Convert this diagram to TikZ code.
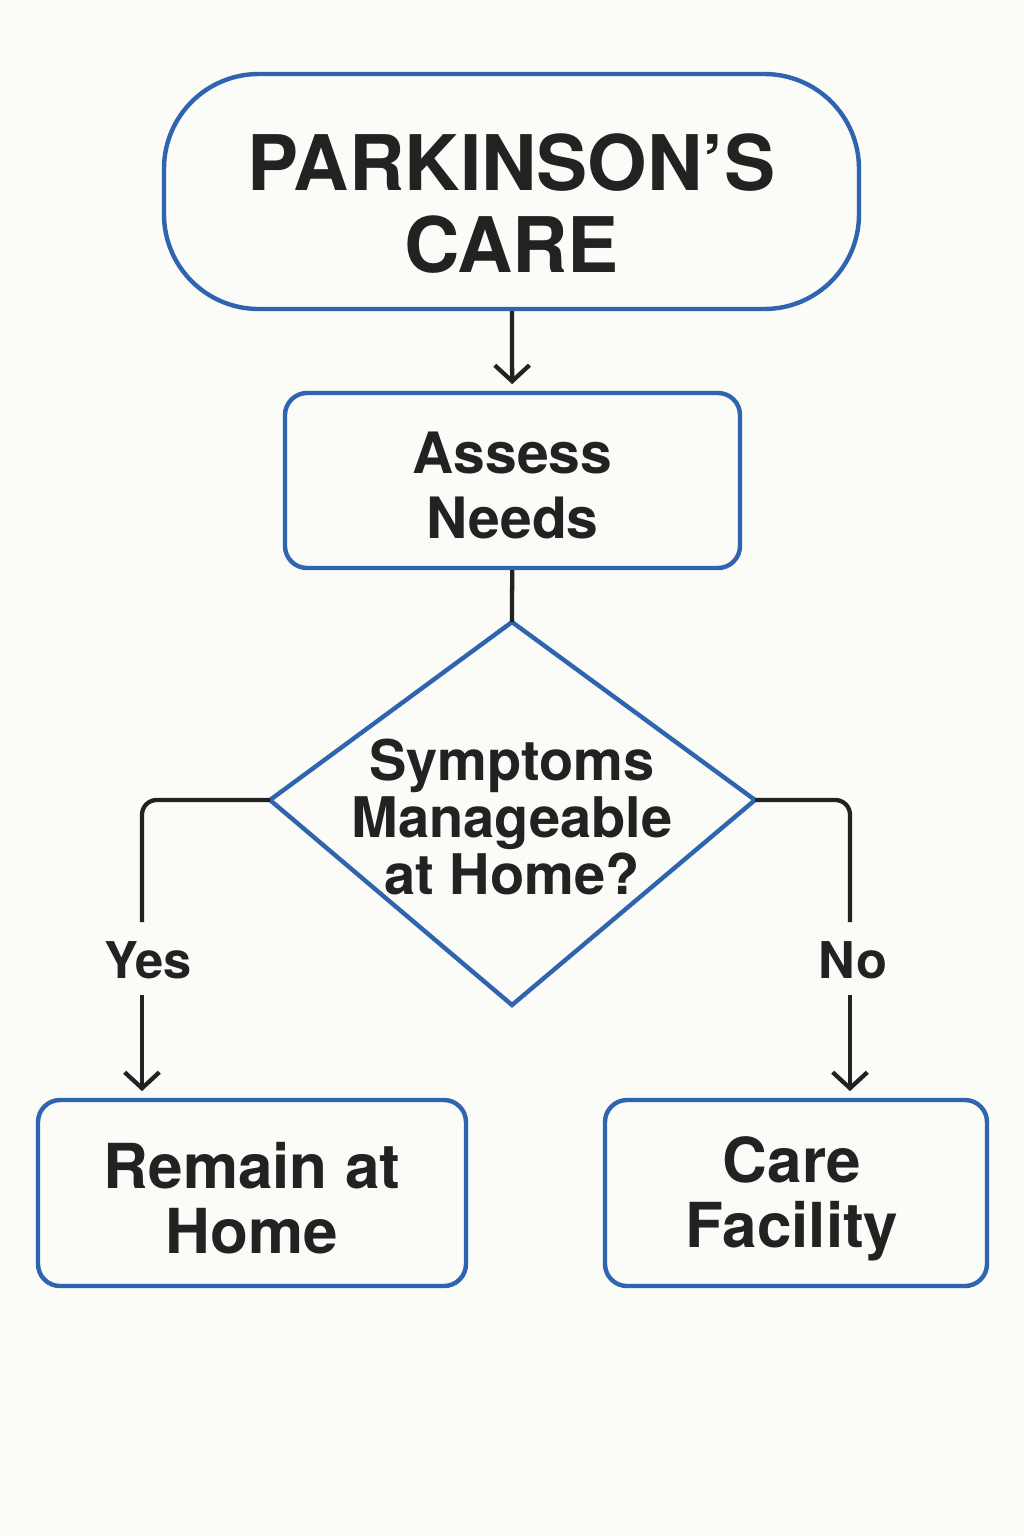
\documentclass[tikz,border=0pt]{standalone}
\usepackage{fontspec}
\setmainfont{TeX Gyre Heros}
\usetikzlibrary{arrows.meta}
\definecolor{bg}{HTML}{FBFBF7}
\definecolor{bblue}{HTML}{2F64AE}
\definecolor{ink}{HTML}{222222}
\tikzset{
  box/.style={draw=bblue, line width=3.3pt, fill=bg, inner sep=0pt},
  btext/.style={inner sep=0pt, align=center, text=ink},
  conn/.style={draw=ink, line width=3.2pt},
  arr/.style={conn, -{Straight Barb[length=12pt,width=26pt,line width=3.2pt]}, shorten >=5pt},
  lbl/.style={text=ink, inner sep=0pt, font=\bfseries\fontsize{38pt}{40pt}\selectfont}
}
\begin{document}
\begin{tikzpicture}[x=0.75pt,y=-0.75pt]
\path[use as bounding box, fill=bg] (0,0) rectangle (1024,1536);

\node[box, minimum width=521.25pt, minimum height=176.25pt, rounded corners=71pt] (title) at (511.5,191.5) {};
\node[btext, font=\bfseries\fontsize{57.5pt}{61pt}\selectfont] (titlet) at ([yshift=-9pt]title.center) {PARKINSON’S\\CARE};

\node[box, minimum width=341.25pt, minimum height=131.25pt, rounded corners=16.5pt] (assess) at (512.5,480.5) {};
\node[btext, font=\bfseries\fontsize{42.75pt}{48.75pt}\selectfont] (assesst) at ([yshift=-4pt]assess.center) {Assess\\Needs};

\coordinate (dT) at (512,622);
\coordinate (dL) at (270,800);
\coordinate (dR) at (755,800);
\coordinate (dB) at (512,1005);
\draw[draw=bblue, line width=3.3pt, line join=miter] (dT) -- (dR) -- (dB) -- (dL) -- cycle;
\node[btext, font=\bfseries\fontsize{42pt}{42.75pt}\selectfont] (q) at (512,817) {Symptoms\\Manageable\\at Home?};

\node[box, minimum width=321pt, minimum height=139.5pt, rounded corners=16.5pt] (remain) at (252,1193) {};
\node[btext, font=\bfseries\fontsize{46.5pt}{48.75pt}\selectfont] (remaint) at ([yshift=-4pt]remain.center) {Remain at\\Home};
\node[box, minimum width=286.5pt, minimum height=139.5pt, rounded corners=16.5pt] (care) at (796,1193) {};
\node[btext, font=\bfseries\fontsize{46.5pt}{48.75pt}\selectfont] (caret) at ([xshift=-3pt,yshift=-4pt]care.center) {Care\\Facility};

\node[lbl] (yes) at (148,960) {Yes};
\node[lbl] (no) at (853,960) {No};

\coordinate (ya) at (142,922);
\coordinate (yb) at (142,995);
\coordinate (na) at (850,922);
\coordinate (nb) at (850,995);

\draw[arr] (title) -- (assess);
\draw[conn] (assess) -- (dT);
\draw[conn, rounded corners=11pt] (dL) -| (ya);
\draw[arr] (yb) -- (yb |- remain.north);
\draw[conn, rounded corners=11pt] (dR) -| (na);
\draw[arr] (nb) -- (nb |- care.north);
\end{tikzpicture}
\end{document}
